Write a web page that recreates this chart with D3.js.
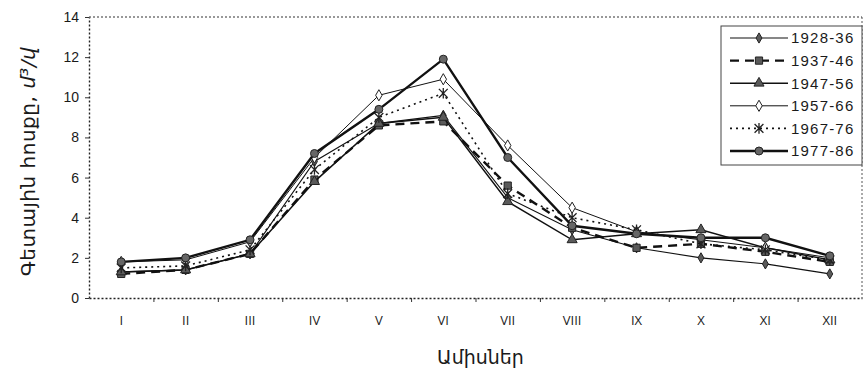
<!DOCTYPE html>
<html>
<head>
<meta charset="utf-8">
<script src="https://cdn.jsdelivr.net/npm/d3@7/dist/d3.min.js"></script>
<style>
  html, body { margin: 0; padding: 0; background: #fff; }
  svg { display: block; }
  text { fill: #1a1a1a; }
</style>
</head>
<body>
<svg id="chart" width="866" height="376"></svg>
<script>
// Monthly river discharge by period, m³/s
const months = ["I", "II", "III", "IV", "V", "VI", "VII", "VIII", "IX", "X", "XI", "XII"];
const periods = ["1928-36", "1937-46", "1947-56", "1957-66", "1967-76", "1977-86"];
const flow1928 = [1.3, 1.4, 2.2, 6.8, 8.7, 9.1, 5.0, 3.4, 2.5, 2.0, 1.7, 1.2];
const flow1937 = [1.2, 1.4, 2.2, 5.9, 8.6, 8.8, 5.6, 3.5, 2.5, 2.7, 2.3, 1.8];
const flow1947 = [1.3, 1.4, 2.2, 5.8, 8.7, 9.0, 4.8, 2.9, 3.2, 3.4, 2.5, 1.9];
const flow1957 = [1.8, 1.9, 2.8, 7.0, 10.1, 10.9, 7.6, 4.5, 3.3, 2.9, 2.5, 2.0];
const flow1967 = [1.5, 1.6, 2.4, 6.4, 9.0, 10.2, 5.2, 4.0, 3.4, 2.7, 2.4, 1.9];
const flow1977 = [1.8, 2.0, 2.9, 7.2, 9.4, 11.9, 7.0, 3.6, 3.2, 3.0, 3.0, 2.1];
const yTicks = [0, 2, 4, 6, 8, 10, 12, 14];
const yTitle = "Գետային հոսքը, ";
const yUnit = "մ³/վ";
const xTitle = "Ամիսներ";

const seriesValues = [flow1928, flow1937, flow1947, flow1957, flow1967, flow1977];

// line and marker look for each period
const styles = [
  { width: 1.1, dash: null,    marker: "diamond",  size: 30, fill: "#5a5a5a" },
  { width: 2.4, dash: "9,6",   marker: "square",   size: 52, fill: "#5a5a5a" },
  { width: 1.5, dash: null,    marker: "triangle", size: 44, fill: "#5a5a5a" },
  { width: 1.0, dash: null,    marker: "diamond",  size: 36, fill: "#fff" },
  { width: 1.6, dash: "2,4",   marker: "star",     size: 50, fill: "none" },
  { width: 2.4, dash: null,    marker: "circle",   size: 50, fill: "#666" }
];

const svg = d3.select("#chart");
const plot = { left: 89, right: 862, top: 17, bottom: 298 };

const x = d3.scaleBand().domain(months).range([plot.left, plot.right]);
const xEdge = d3.scaleLinear().domain([0, months.length]).range([plot.left, plot.right]);
const y = d3.scaleLinear().domain([0, 14]).range([plot.bottom, plot.top]);

const dotted = "2,2";

// plot frame: top and right edges
svg.append("line")
  .attr("x1", plot.left).attr("x2", plot.right)
  .attr("y1", plot.top).attr("y2", plot.top)
  .attr("stroke", "#333").attr("stroke-width", 1.2).attr("stroke-dasharray", dotted);
svg.append("line")
  .attr("x1", plot.right).attr("x2", plot.right)
  .attr("y1", plot.top).attr("y2", plot.bottom)
  .attr("stroke", "#555").attr("stroke-width", 1).attr("stroke-dasharray", dotted);

// y axis
const yAxis = svg.append("g")
  .attr("transform", `translate(${plot.left},0)`)
  .call(d3.axisLeft(y).tickValues(yTicks).tickSize(4).tickPadding(6).tickSizeOuter(0));
yAxis.selectAll("text")
  .attr("font-family", "Arial, 'Liberation Sans', sans-serif")
  .attr("font-size", 14).attr("fill", "#222");

// x axis: tick marks on the month boundaries, labels in the middle of each month
const xAxisTicks = svg.append("g")
  .attr("transform", `translate(0,${plot.bottom})`)
  .call(d3.axisBottom(xEdge).tickValues(d3.range(1, months.length)).tickSize(4).tickFormat("").tickSizeOuter(0));
const xAxisLabels = svg.append("g")
  .attr("transform", `translate(0,${plot.bottom})`)
  .call(d3.axisBottom(x).tickSize(0).tickPadding(18));
xAxisLabels.select(".domain").remove();
xAxisLabels.selectAll("text")
  .attr("font-family", "'Open Sans', Arial, sans-serif")
  .attr("font-size", 13).attr("fill", "#333");

[yAxis, xAxisTicks].forEach(g => {
  g.select(".domain").attr("stroke", "#222").attr("stroke-width", 1.4).attr("stroke-dasharray", dotted);
  g.selectAll(".tick line").attr("stroke", "#333");
});

// marker shapes
function markerPath(kind, size) {
  if (kind === "star") {
    const r = Math.sqrt(size) / 1.6;
    return `M${-r},${-r}L${r},${r}M${-r},${r}L${r},${-r}M0,${-r * 1.2}L0,${r * 1.2}`;
  }
  const t = { diamond: d3.symbolDiamond, square: d3.symbolSquare, triangle: d3.symbolTriangle, circle: d3.symbolCircle }[kind];
  return d3.symbol(t, size)();
}

const line = d3.line()
  .x((d, i) => x(months[i]) + x.bandwidth() / 2)
  .y(d => y(d));

seriesValues.forEach((vals, k) => {
  const s = styles[k];
  const g = svg.append("g").attr("class", "series");
  g.append("path")
    .attr("d", line(vals))
    .attr("fill", "none")
    .attr("stroke", "#111")
    .attr("stroke-width", s.width)
    .attr("stroke-dasharray", s.dash);
  g.selectAll("path.mk").data(vals).join("path")
    .attr("class", "mk")
    .attr("transform", (d, i) => `translate(${x(months[i]) + x.bandwidth() / 2},${y(d)})`)
    .attr("d", markerPath(s.marker, s.size))
    .attr("fill", s.fill)
    .attr("stroke", "#222")
    .attr("stroke-width", s.marker === "star" ? 1.3 : 1);
});

// legend
const lg = { x: 721, y: 26, w: 141, h: 139 };
svg.append("rect")
  .attr("x", lg.x).attr("y", lg.y).attr("width", lg.w).attr("height", lg.h)
  .attr("fill", "#fff").attr("stroke", "#444").attr("stroke-width", 1);
const rowY = d3.scalePoint().domain(periods).range([lg.y + 12, lg.y + 125]);
periods.forEach((p, k) => {
  const s = styles[k];
  const cy = rowY(p);
  const row = svg.append("g");
  row.append("line")
    .attr("x1", lg.x + 9).attr("x2", lg.x + 67)
    .attr("y1", cy).attr("y2", cy)
    .attr("stroke", "#111").attr("stroke-width", s.width)
    .attr("stroke-dasharray", s.dash);
  row.append("path")
    .attr("transform", `translate(${lg.x + 38},${cy})`)
    .attr("d", markerPath(s.marker, s.size))
    .attr("fill", s.fill)
    .attr("stroke", "#222").attr("stroke-width", s.marker === "star" ? 1.3 : 1);
  row.append("text")
    .attr("x", lg.x + 70).attr("y", cy).attr("dy", "0.36em")
    .attr("font-family", "Arial, 'Liberation Sans', sans-serif")
    .attr("font-size", 15).attr("letter-spacing", 1.2)
    .text(p);
});

// axis titles
svg.append("text")
  .attr("x", (plot.left + plot.right) / 2 + 5).attr("y", 364)
  .attr("text-anchor", "middle")
  .attr("font-family", "'DejaVu Sans', sans-serif")
  .attr("font-size", 19)
  .text(xTitle);

const yt = svg.append("text")
  .attr("transform", `translate(35,${(plot.top + plot.bottom) / 2 + 4}) rotate(-90)`)
  .attr("text-anchor", "middle")
  .attr("font-family", "'DejaVu Sans', sans-serif")
  .attr("font-size", 20)
  .attr("letter-spacing", 0.5);
yt.append("tspan").text(yTitle);
yt.append("tspan").attr("font-style", "italic").text(yUnit);
</script>
</body>
</html>
